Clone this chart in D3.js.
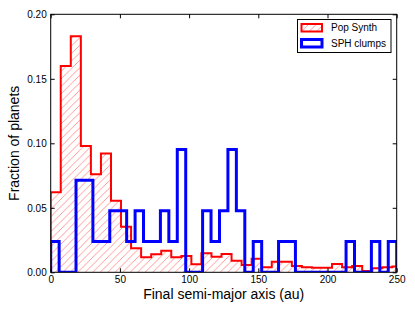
<!DOCTYPE html>
<html>
<head>
<meta charset="utf-8">
<script src="https://cdn.jsdelivr.net/npm/d3@7"></script>
<style>
  body { margin: 0; background: #fff; }
  svg { display: block; font-family: "Liberation Sans", Arial, sans-serif; }
</style>
</head>
<body>
<div id="wrapper"></div>
<script>
// Pop Synth: fraction per bin (bins start at 0 au)
const redBinWidth = 7.26;
const redValues = [0.062, 0.160, 0.183, 0.098, 0.076, 0.092, 0.0555, 0.0353, 0.0186, 0.0116,
  0.014, 0.0167, 0.0116, 0.0126, 0.0062, 0.0147, 0.0121, 0.0142, 0.009, 0.0057,
  0.0105, 0.0039, 0.0082, 0.0082, 0.0049, 0.0039, 0.0036, 0.0036, 0.0064, 0.0039,
  0.0049, 0.001, 0.0031, 0.0039, 0.0045];

// SPH clumps: planet counts per bin, 42 planets in total
const blueBinWidth = 250 / 41;
const blueCounts = [1, 0, 0, 3, 3, 1, 1, 2, 2, 1, 2, 1, 1, 2, 1, 4, 0, 0, 2, 1,
  2, 4, 2, 0, 1, 0, 0, 1, 1, 0, 0, 0, 0, 0, 0, 1, 0, 0, 1, 0, 1];
const blueTotal = 42;

const xTicks = [0, 50, 100, 150, 200, 250];
const yTicks = [0, 0.05, 0.10, 0.15, 0.20];
const legendLabels = ["Pop Synth", "SPH clumps"];

function drawChart() {
  let dimensions = {
    width: 415,
    height: 312,
    margin: { top: 14.3, right: 18.3, bottom: 39.7, left: 50.7 },
  }
  dimensions.boundedWidth = dimensions.width - dimensions.margin.left - dimensions.margin.right
  dimensions.boundedHeight = dimensions.height - dimensions.margin.top - dimensions.margin.bottom

  const wrapper = d3.select("#wrapper")
    .append("svg")
    .attr("width", dimensions.width)
    .attr("height", dimensions.height);

  const defs = wrapper.append("defs");
  const hatch = defs.append("pattern")
    .attr("id", "hatch")
    .attr("patternUnits", "userSpaceOnUse")
    .attr("width", 7.5)
    .attr("height", 7.5);
  hatch.append("path")
    .attr("d", "M-1,1 l2,-2 M0,7.5 l7.5,-7.5 M6.5,8.5 l2,-2")
    .attr("stroke", "#ff8c8c")
    .attr("stroke-width", 0.9);

  defs.append("clipPath").attr("id", "plot-clip")
    .append("rect")
    .attr("width", dimensions.boundedWidth)
    .attr("height", dimensions.boundedHeight);

  const bounds = wrapper.append("g")
    .attr("transform", `translate(${dimensions.margin.left},${dimensions.margin.top})`);

  const xScale = d3.scaleLinear()
    .domain([0, 250])
    .range([0, dimensions.boundedWidth]);
  const yScale = d3.scaleLinear()
    .domain([0, 0.20])
    .range([dimensions.boundedHeight, 0]);

  // step outline points for a histogram
  const stepPoints = (values, w) => {
    const pts = [[0, 0]];
    values.forEach((v, i) => {
      pts.push([i * w, v]);
      pts.push([(i + 1) * w, v]);
    });
    pts.push([values.length * w, 0]);
    return pts;
  }

  const redPts = stepPoints(redValues, redBinWidth);
  const bluePts = stepPoints(blueCounts.map(c => c / blueTotal), blueBinWidth);

  const line = d3.line().x(d => xScale(d[0])).y(d => yScale(d[1]));
  const area = d3.area().x(d => xScale(d[0])).y0(yScale(0)).y1(d => yScale(d[1]));

  const plot = bounds.append("g").attr("clip-path", "url(#plot-clip)");

  plot.append("path")
    .attr("d", area(redPts))
    .attr("fill", "url(#hatch)");
  plot.append("path")
    .attr("d", line(redPts))
    .attr("fill", "none")
    .attr("stroke", "#ff0000")
    .attr("stroke-width", 2)
    .attr("stroke-linejoin", "miter");
  plot.append("path")
    .attr("d", line(bluePts))
    .attr("fill", "none")
    .attr("stroke", "#0000ff")
    .attr("stroke-width", 3)
    .attr("stroke-linejoin", "miter");

  // axes, ticks pointing inward
  const xAxis = bounds.append("g")
    .attr("transform", `translate(0,${dimensions.boundedHeight})`)
    .call(d3.axisBottom(xScale).tickValues(xTicks).tickFormat(d3.format("d")).tickSize(-4).tickPadding(4));
  bounds.append("g")
    .call(d3.axisTop(xScale).tickValues(xTicks).tickFormat("").tickSize(-4));
  const yAxis = bounds.append("g")
    .call(d3.axisLeft(yScale).tickValues(yTicks).tickFormat(d3.format(".2f")).tickSize(-4).tickPadding(4));
  bounds.append("g")
    .attr("transform", `translate(${dimensions.boundedWidth},0)`)
    .call(d3.axisRight(yScale).tickValues(yTicks).tickFormat("").tickSize(-4));

  bounds.selectAll(".domain").remove();
  bounds.selectAll(".tick line").attr("stroke", "#000");
  bounds.selectAll(".tick text")
    .attr("font-size", 10)
    .attr("font-family", "'Liberation Sans', Arial, sans-serif")
    .attr("fill", "#000");

  bounds.append("rect")
    .attr("width", dimensions.boundedWidth)
    .attr("height", dimensions.boundedHeight)
    .attr("fill", "none")
    .attr("stroke", "#000")
    .attr("stroke-width", 1);

  // axis labels
  wrapper.append("text")
    .attr("x", dimensions.margin.left + dimensions.boundedWidth / 2)
    .attr("y", 299)
    .attr("text-anchor", "middle")
    .attr("font-size", 14)
    .attr("fill", "#000")
    .text("Final semi-major axis (au)");
  wrapper.append("text")
    .attr("transform", `translate(18.5,${dimensions.margin.top + dimensions.boundedHeight / 2}) rotate(-90)`)
    .attr("text-anchor", "middle")
    .attr("font-size", 14)
    .attr("fill", "#000")
    .text("Fraction of planets");

  // legend
  const legend = wrapper.append("g").attr("transform", "translate(297.5,19.5)");
  legend.append("rect")
    .attr("width", 93.5)
    .attr("height", 33)
    .attr("fill", "#fff")
    .attr("stroke", "#000")
    .attr("stroke-width", 1);
  const items = legend.selectAll(".item")
    .data(legendLabels)
    .join("g")
    .attr("transform", (d, i) => `translate(4,${4.5 + i * 15.5})`);
  items.append("rect")
    .attr("width", 20.5)
    .attr("height", 7.5)
    .attr("fill", (d, i) => i === 0 ? "url(#hatch)" : "none")
    .attr("stroke", (d, i) => i === 0 ? "#ff0000" : "#0000ff")
    .attr("stroke-width", (d, i) => i === 0 ? 2 : 3);
  items.append("text")
    .attr("x", 29.5)
    .attr("y", 7)
    .attr("font-size", 10)
    .attr("fill", "#000")
    .text(d => d);
}

drawChart()
</script>
</body>
</html>
